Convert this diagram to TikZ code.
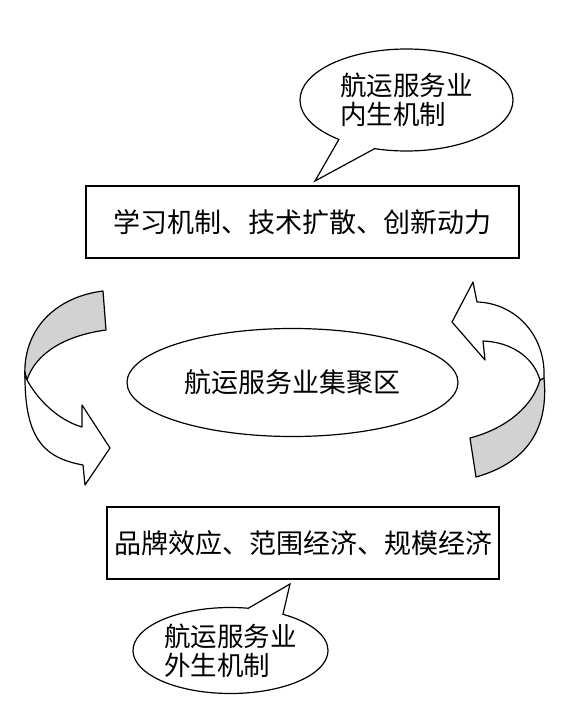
\documentclass[tikz,border=0pt]{standalone}
\usepackage{fontspec}
\newfontfamily\cjk{Noto Sans CJK SC}
\usetikzlibrary{shapes.geometric,shapes.callouts}

\begin{document}
\begin{tikzpicture}[
  x=1pt, y=-1pt,
  font=\cjk\fontsize{27pt}{30pt}\selectfont,
  box/.style={draw, line width=1.8pt, minimum height=72pt, inner sep=0pt},
  hub/.style={draw, ellipse, line width=1.2pt, minimum width=331pt, minimum height=108pt, inner sep=0pt},
  bubble/.style={draw, ellipse callout, line width=1.2pt, fill=white, callout pointer arc=22,
    align=left, inner sep=0pt, font=\cjk\fontsize{26.5pt}{29pt}\selectfont},
  band/.style={draw, line width=1.2pt, line join=round, fill=gray!35},
  face/.style={draw, line width=1.2pt, line join=round, fill=white}
]
\useasboundingbox (0,0) rectangle (566,714);

\node[box, minimum width=433pt] (inner) at (302.5,222) {学习机制、技术扩散、创新动力};
\node[box, minimum width=392pt] (outer) at (303,543) {品牌效应、范围经济、规模经济};
\node[hub] (cluster) at (292.5,382.5) {航运服务业集聚区};

\node[bubble, minimum width=213pt, minimum height=102pt, callout absolute pointer={(315,181)}]
  (endo) at (406.5,100) {航运服务业\\内生机制};
\node[bubble, minimum width=195pt, minimum height=86pt, callout absolute pointer={(290,584)}]
  (exo) at (230.5,650.5) {航运服务业\\外生机制};

\filldraw[band] (103,291) -- (106,330) .. controls (62,336) and (35,355) .. (27,380)
  -- (25,378) .. controls (22,330) and (55,297) .. (103,291) -- cycle;
\filldraw[face] (27,380) .. controls (38,400) and (58,420) .. (82,427) -- (82,405) -- (110,448)
  -- (85,485) -- (83,465) .. controls (45,458) and (24,440) .. (25,372) -- cycle;

\filldraw[band] (470,438) -- (476,477) .. controls (515,466) and (550,440) .. (544,378)
  -- (540,380) .. controls (533,405) and (508,428) .. (470,438) -- cycle;
\filldraw[face] (544,378) .. controls (546,335) and (515,303) .. (477,302) -- (473,282) -- (452,322)
  -- (485,360) -- (483,341) .. controls (510,342) and (533,356) .. (540,380) -- cycle;
\end{tikzpicture}
\end{document}
